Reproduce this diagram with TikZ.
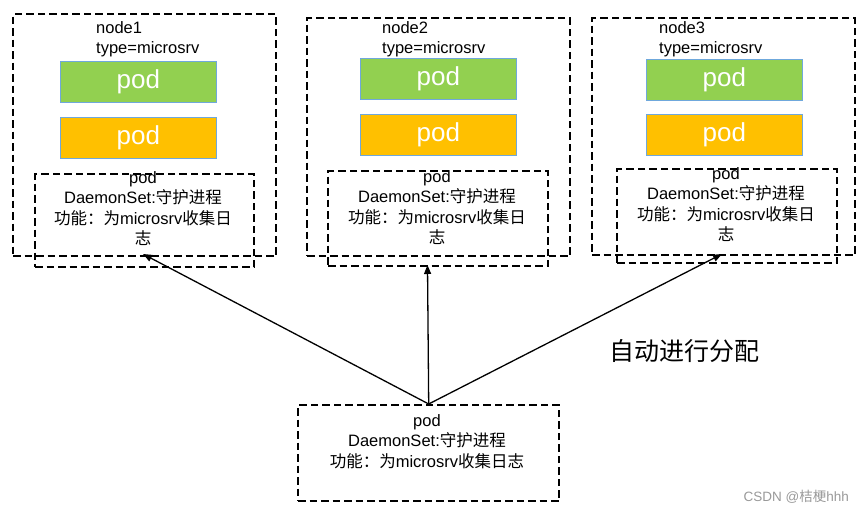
\documentclass[tikz,border=0pt]{standalone}
\usepackage{fontspec}
\setmainfont{Liberation Sans}
\newfontfamily\cjk{Noto Sans CJK SC}
\usetikzlibrary{arrows.meta}
\definecolor{podgreen}{HTML}{92D050}
\definecolor{podorange}{HTML}{FFC000}
\definecolor{podedge}{HTML}{6FA8DC}
\begin{document}
\begin{tikzpicture}[x=1pt,y=-1pt,
  dashbox/.style={draw=black,line width=2.4pt,dash pattern=on 7.5pt off 4pt,inner sep=0pt,anchor=north west},
  podbox/.style={draw=podedge,line width=0.8pt,inner sep=0pt,anchor=north west,minimum width=156pt,minimum height=41pt,text=white,font=\fontsize{26}{30}\selectfont},
  nodelabel/.style={anchor=north west,inner sep=0pt,align=left,font=\fontsize{16.5}{20.5}\selectfont},
  dstext/.style={anchor=north,inner sep=0pt,align=center,font=\fontsize{16.5}{20.5}\selectfont},
  arr/.style={line width=1.3pt,-{Triangle[length=9pt,width=7pt]}}]
\useasboundingbox (0,0) rectangle (863,514);
% node 1
\node[dashbox,minimum width=263pt,minimum height=242pt] (n1) at (12,13) {};
\node[nodelabel] (l1) at (96,21) {node1\\type=microsrv};
\node[podbox,fill=podgreen] (g1) at (60,61) {pod};
\node[podbox,fill=podorange] (o1) at (60,117) {pod};
\node[dashbox,minimum width=219pt,minimum height=93pt] (d1) at (34,173) {};
\node[dstext] (t1) at (143,171) {pod\\DaemonSet:{\cjk 守护进程}\\{\cjk 功能：为}microsrv{\cjk 收集日}\\{\cjk 志}};
% node 2
\node[dashbox,minimum width=263pt,minimum height=238pt] (n2) at (306,17) {};
\node[nodelabel] (l2) at (382,21) {node2\\type=microsrv};
\node[podbox,fill=podgreen] (g2) at (360,58) {pod};
\node[podbox,fill=podorange] (o2) at (360,114) {pod};
\node[dashbox,minimum width=220pt,minimum height=95pt] (d2) at (327,170) {};
\node[dstext] (t2) at (437,170) {pod\\DaemonSet:{\cjk 守护进程}\\{\cjk 功能：为}microsrv{\cjk 收集日}\\{\cjk 志}};
% node 3
\node[dashbox,minimum width=263pt,minimum height=237pt] (n3) at (591,17) {};
\node[nodelabel] (l3) at (659,21) {node3\\type=microsrv};
\node[podbox,fill=podgreen] (g3) at (646,59) {pod};
\node[podbox,fill=podorange] (o3) at (646,114) {pod};
\node[dashbox,minimum width=220pt,minimum height=94pt] (d3) at (616,168) {};
\node[dstext] (t3) at (726,167) {pod\\DaemonSet:{\cjk 守护进程}\\{\cjk 功能：为}microsrv{\cjk 收集日}\\{\cjk 志}};
% bottom daemonset
\node[dashbox,minimum width=261pt,minimum height=96pt] (bot) at (297,404) {};
\node[dstext] (tb) at (427,414) {pod\\DaemonSet:{\cjk 守护进程}\\{\cjk 功能：为}microsrv{\cjk 收集日志}};
% arrows
\coordinate (a1) at (143,254);
\coordinate (a2) at (427.5,265);
\coordinate (a3) at (722,254);
\draw[arr] (bot.north) -- (a1);
\draw[arr] (bot.north) -- (a2);
\draw[arr] (bot.north) -- (a3);
% labels
\node[anchor=west,inner sep=0pt,font=\fontsize{25}{30}\selectfont\cjk] (auto) at (609,351) {自动进行分配};
\node[anchor=east,inner sep=0pt,text=gray!80,font=\fontsize{13.5}{16}\selectfont] (csdn) at (849,497) {CSDN @{\cjk 桔梗}hhh};
\end{tikzpicture}
\end{document}
